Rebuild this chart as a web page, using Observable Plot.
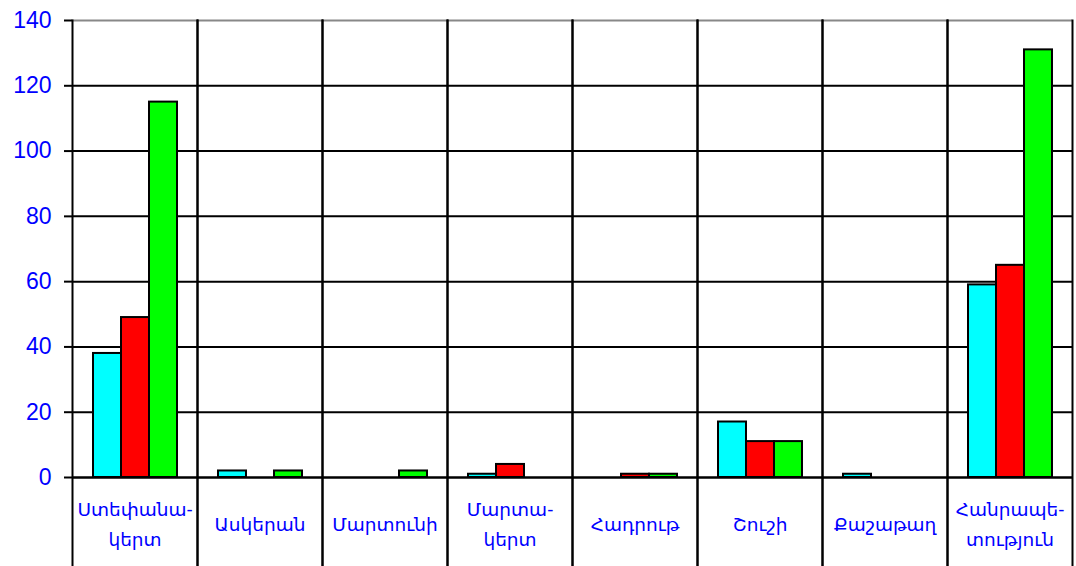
<!DOCTYPE html>
<html>
<head>
<meta charset="utf-8">
<script src="https://cdn.jsdelivr.net/npm/d3@7"></script>
<script src="https://cdn.jsdelivr.net/npm/@observablehq/plot@0.6"></script>
<style>
  html, body { margin: 0; padding: 0; background: #fff; }
  #chart svg { display: block; }
  #chart svg g[aria-label="y-axis tick label"] { font-size: 23px; }
</style>
</head>
<body>
<div id="chart"></div>
<script>
const categories = ["Ստեփանակերտ", "Ասկերան", "Մարտունի", "Մարտակերտ", "Հադրութ", "Շուշի", "Քաշաթաղ", "Հանրապետություն"];
const categoryLabels = ["Ստեփանա-\nկերտ", "Ասկերան", "Մարտունի", "Մարտա-\nկերտ", "Հադրութ", "Շուշի", "Քաշաթաղ", "Հանրապե-\nտություն"];
const seriesNames = ["Շարք 1", "Շարք 2", "Շարք 3"];
const seriesColors = ["#00ffff", "#ff0000", "#00ff00"];
const series1 = [38, 2, 0, 1, 0, 17, 1, 59];
const series2 = [49, 0, 0, 4, 1, 11, 0, 65];
const series3 = [115, 2, 2, 0, 1, 11, 0, 131];
const yTicks = [0, 20, 40, 60, 80, 100, 120, 140];

const seriesValues = [series1, series2, series3];
const rows = [];
categories.forEach((c, i) => {
  seriesNames.forEach((s, j) => {
    rows.push({cat: c, series: s, value: seriesValues[j][i]});
  });
});
const bars = rows.filter(d => d.value > 0);
const labelRows = categories.map((c, i) => ({cat: c, label: categoryLabels[i]}));

const chart = Plot.plot({
  width: 1076,
  height: 566,
  marginLeft: 72,
  marginRight: 4,
  marginTop: 20,
  marginBottom: 0,
  style: {fontFamily: "'Liberation Sans', Arial, 'DejaVu Sans', sans-serif", background: "#fff"},
  fx: {domain: categories, padding: 0, axis: null, label: null},
  x: {domain: seriesNames, paddingInner: 0, paddingOuter: 0.732, axis: null, label: null},
  y: {domain: [0, 140], range: [477, 20], axis: null, label: null},
  color: {domain: seriesNames, range: seriesColors},
  marks: [
    Plot.ruleY(yTicks.filter(t => t > 0 && t < 140), {stroke: "#000", strokeWidth: 2}),
    Plot.ruleY([140], {stroke: "#888", strokeWidth: 2}),
    Plot.frame({anchor: "left", stroke: "#000", strokeWidth: 2}),
    Plot.frame({anchor: "right", stroke: "#000", strokeWidth: 2}),
    Plot.barY(bars, {fx: "cat", x: "series", y: "value", fill: "series", stroke: "#000", strokeWidth: 2}),
    Plot.ruleY([0], {stroke: "#000", strokeWidth: 2.5}),
    Plot.axisY({ticks: yTicks, tickSize: 8, tickPadding: 13, fontSize: 23, fill: "#0000ff", stroke: "#000", strokeWidth: 2, tickFormat: d => String(d), label: null}),
    Plot.text(labelRows, {fx: "cat", text: "label", frameAnchor: "bottom", dy: -45, lineAnchor: "middle", lineHeight: 1.6, fontSize: 18.5, fill: "#0000ff"})
  ]
});
document.getElementById("chart").appendChild(chart);
</script>
</body>
</html>
